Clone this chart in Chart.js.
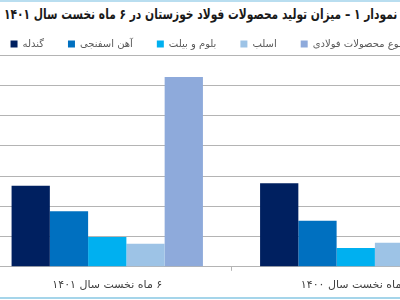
<!DOCTYPE html>
<html>
<head>
<meta charset="utf-8">
<script src="https://cdn.jsdelivr.net/npm/chart.js@4"></script>
<style>
  html, body { margin: 0; padding: 0; background: #fff; }
  #frame { position: relative; width: 400px; height: 300px; overflow: hidden; background: #fff; }
  #topline { position: absolute; left: 0; top: 0; width: 400px; height: 2px; background: #b9def0; }
  #bottomline { position: absolute; left: 0; top: 297px; width: 400px; height: 2px; background: #a5d5ea; }
  #title { position: absolute; right: 3px; top: 6px; font: bold 14px "DejaVu Sans Condensed", "DejaVu Sans", sans-serif; color: #1a1a1a; white-space: nowrap; direction: rtl; transform-origin: right center; }
  #wrap { position: absolute; left: -53px; top: 15px; width: 533px; height: 285px; }
</style>
</head>
<body>
<div id="frame">
  <div id="topline"></div>
  <div id="title">نمودار ۱ – میزان تولید محصولات فولاد خوزستان در ۶ ماه نخست سال ۱۴۰۱</div>
  <div id="wrap"><canvas id="chart" dir="rtl"></canvas></div>
  <div id="bottomline"></div>
</div>
<script>
// categories (left to right as in the picture)
const periods = ["۶ ماه نخست سال ۱۴۰۱", "۶ ماه نخست سال ۱۴۰۰"];

// series names
const products = ["گندله", "آهن اسفنجی", "بلوم و بیلت", "اسلب", "مجموع محصولات فولادی"];

// values (one gridline = 500)
const pellet = [1340, 1381];
const spongeIron = [917, 762];
const bloomBillet = [492, 310];
const slab = [381, 397];
const totalSteel = [3136, 2850];

const colors = ["#002060", "#0070c0", "#00b0f0", "#9dc3e6", "#8eaadb"];

const series = [pellet, spongeIron, bloomBillet, slab, totalSteel];

// squeeze the title so it fits the frame like the original
const title = document.getElementById("title");
title.style.transform = "scaleX(" + Math.min(1, 393 / title.offsetWidth) + ")";

// legend is a touch shorter than chart.js makes it
const legendTrim = {
  id: "legendTrim",
  beforeLayout(chart) {
    const lg = chart.legend;
    if (lg && !lg._trimmed) {
      const fit = lg.fit;
      lg.fit = function() {
        fit.call(this);
        this.height -= 4;
      };
      lg._trimmed = true;
    }
  }
};

const ctx = document.getElementById("chart").getContext("2d");
const chart = new Chart(ctx, {
  type: "bar",
  data: {
    labels: periods,
    datasets: series.map((vals, i) => ({
      label: products[i],
      data: vals,
      backgroundColor: colors[i],
      borderWidth: 0,
      categoryPercentage: 0.77,
      barPercentage: 1.0
    }))
  },
  options: {
    responsive: true,
    maintainAspectRatio: false,
    animation: false,
    layout: { padding: 0 },
    scales: {
      x: {
        grid: {
          offset: true,
          drawOnChartArea: false,
          drawTicks: true,
          tickLength: 4,
          color: "#b4b4b4"
        },
        border: { display: true, color: "#b4b4b4" },
        ticks: {
          padding: 8,
          color: "#404040",
          font: { family: "DejaVu Sans", size: 11 }
        }
      },
      y: {
        position: "left",
        min: 0,
        max: 3500,
        ticks: { display: false, stepSize: 500 },
        grid: { color: "#b4b4b4", drawTicks: false },
        border: { display: false },
        afterFit: function(scale) { scale.width = 36; }
      }
    },
    plugins: {
      legend: {
        position: "top",
        labels: {
          boxWidth: 7,
          boxHeight: 7,
          padding: 24,
          color: "#595959",
          font: { family: "DejaVu Sans", size: 10 }
        }
      },
      tooltip: { enabled: false }
    }
  },
  plugins: [legendTrim]
});
</script>
</body>
</html>
